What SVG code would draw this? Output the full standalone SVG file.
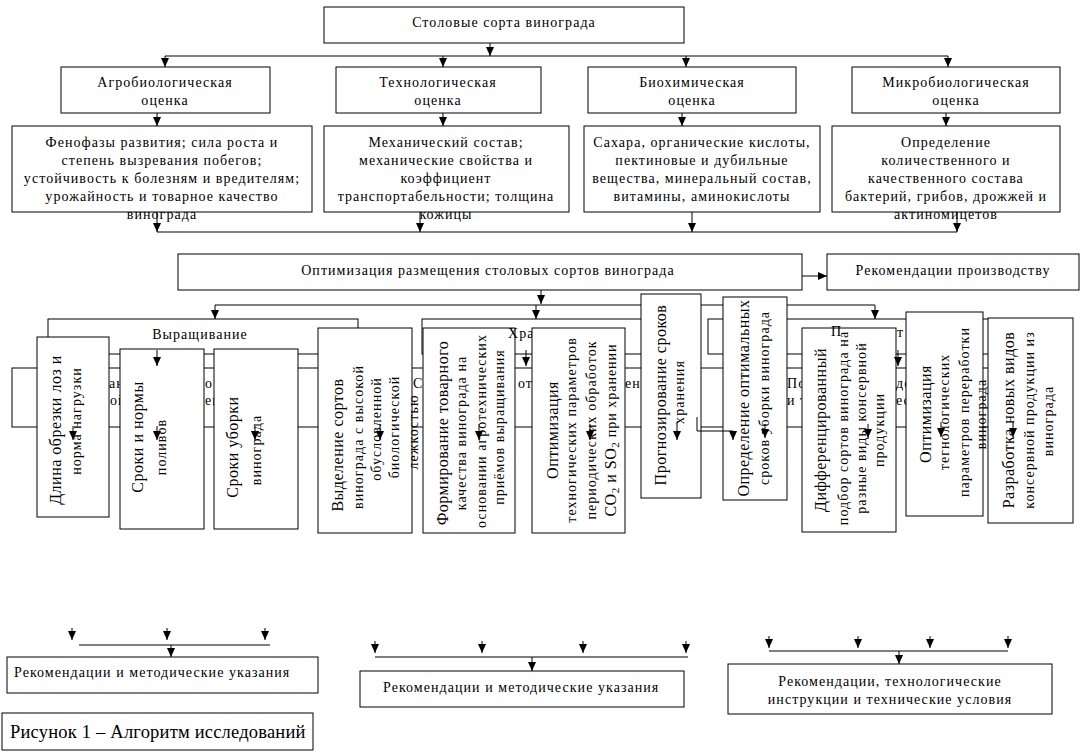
<svg xmlns="http://www.w3.org/2000/svg" width="1081" height="752" viewBox="0 0 1081 752">
<style>
.b{fill:#fff;stroke:#000;stroke-width:1}
text{font-family:"Liberation Serif","Times New Roman",serif;font-size:14px;letter-spacing:1.05px;fill:#000}
.m{text-anchor:middle}
.h{font-size:16px;letter-spacing:0.5px}
.cap{font-size:18.5px;letter-spacing:0.2px}
.c line,.c path{fill:none;stroke:#000;stroke-width:1}
.a{marker-end:url(#ah)}
</style>
<defs>
<marker id="ah" markerWidth="9" markerHeight="8" refX="9" refY="4" orient="auto" markerUnits="userSpaceOnUse"><path d="M0,0 L9,4 L0,8 z" fill="#000"/></marker>
</defs>
<rect width="1081" height="752" fill="#fff"/>

<g class="c" id="connectors-top">
<line class="a" x1="490" y1="43" x2="490" y2="56"/>
<line x1="165" y1="56" x2="948" y2="56"/>
<line class="a" x1="165" y1="56" x2="165" y2="67"/>
<line class="a" x1="443" y1="56" x2="443" y2="67"/>
<line class="a" x1="686" y1="56" x2="686" y2="67"/>
<line class="a" x1="948" y1="56" x2="948" y2="67"/>
<line class="a" x1="157" y1="113" x2="157" y2="126"/>
<line class="a" x1="443" y1="113" x2="443" y2="126"/>
<line class="a" x1="682" y1="113" x2="682" y2="126"/>
<line class="a" x1="946" y1="113" x2="946" y2="126"/>
<line class="a" x1="157" y1="212" x2="157" y2="232"/>
<line class="a" x1="420" y1="212" x2="420" y2="232"/>
<line class="a" x1="692" y1="212" x2="692" y2="232"/>
<line class="a" x1="957" y1="212" x2="957" y2="232"/>
<line x1="157" y1="232" x2="957" y2="232"/>
<line class="a" x1="802" y1="276" x2="827" y2="276"/>
<line class="a" x1="541" y1="290" x2="541" y2="304"/>
<line x1="215" y1="305" x2="875" y2="305"/>
<line class="a" x1="215" y1="305" x2="215" y2="319"/>
<line class="a" x1="536" y1="305" x2="536" y2="319"/>
<line class="a" x1="875" y1="305" x2="875" y2="319"/>
</g>

<g id="n-top"><rect class="b" x="324" y="7" width="360" height="36"/><text class="m" x="504" y="27">Столовые сорта винограда</text></g>

<g id="n-agro"><rect class="b" x="61" y="67" width="209" height="46"/><text class="m" x="165" y="87">Агробиологическая</text><text class="m" x="165" y="105">оценка</text></g>
<g id="n-tech"><rect class="b" x="336" y="67" width="205" height="46"/><text class="m" x="438" y="87">Технологическая</text><text class="m" x="438" y="105">оценка</text></g>
<g id="n-bio"><rect class="b" x="588" y="67" width="208" height="46"/><text class="m" x="692" y="87">Биохимическая</text><text class="m" x="692" y="105">оценка</text></g>
<g id="n-micro"><rect class="b" x="852" y="67" width="208" height="46"/><text class="m" x="956" y="87">Микробиологическая</text><text class="m" x="956" y="105">оценка</text></g>

<g id="n-agro-d"><rect class="b" x="12" y="126" width="300" height="86"/>
<text class="m" x="162" y="147">Фенофазы развития; сила роста и</text>
<text class="m" x="162" y="165">степень вызревания побегов;</text>
<text class="m" x="162" y="183">устойчивость к болезням и вредителям;</text>
<text class="m" x="162" y="201">урожайность и  товарное качество</text>
<text class="m" x="162" y="219">винограда</text></g>
<g id="n-tech-d"><rect class="b" x="324" y="126" width="245" height="86"/>
<text class="m" x="446" y="147">Механический состав;</text>
<text class="m" x="446" y="165">механические свойства и</text>
<text class="m" x="446" y="183">коэффициент</text>
<text class="m" x="446" y="201">транспортабельности; толщина</text>
<text class="m" x="446" y="219">кожицы</text></g>
<g id="n-bio-d"><rect class="b" x="584" y="126" width="236" height="86"/>
<text class="m" x="702" y="147">Сахара,  органические кислоты,</text>
<text class="m" x="702" y="165">пектиновые и дубильные</text>
<text class="m" x="702" y="183">вещества, минеральный состав,</text>
<text class="m" x="702" y="201">витамины, аминокислоты</text></g>
<g id="n-micro-d"><rect class="b" x="832" y="126" width="228" height="86"/>
<text class="m" x="946" y="147">Определение</text>
<text class="m" x="946" y="165">количественного и</text>
<text class="m" x="946" y="183">качественного состава</text>
<text class="m" x="946" y="201">бактерий, грибов, дрожжей и</text>
<text class="m" x="946" y="219">актиномицетов</text></g>

<g id="n-opt"><rect class="b" x="178" y="254" width="624" height="36"/><text class="m" x="488" y="275">Оптимизация размещения столовых сортов винограда</text></g>
<g id="n-rec-prod"><rect class="b" x="827" y="254" width="252" height="36"/><text class="m" x="953" y="275">Рекомендации производству</text></g>

<g id="n-grow"><rect class="b" x="48" y="319" width="310" height="35"/><text class="m" x="200" y="339">Выращивание</text></g>
<g id="n-store"><rect class="b" x="422" y="319" width="268" height="35"/></g>
<g id="n-proc"><rect class="b" x="708" y="319" width="292" height="35"/></g>
<g id="n-row"><rect class="b" x="12" y="368" width="988" height="59"/>
<text x="109" y="388">ан</text><text x="205" y="388">о</text>
<text x="110" y="405">ой</text><text x="205" y="405">ен</text>
<text x="413" y="388">С</text><text x="518" y="388">от</text><text x="625" y="388">ени</text>
<text x="787" y="388">По</text><text x="787" y="405">и т</text>
<text x="896" y="388">де</text><text x="896" y="405">ес</text></g>

<g id="v1"><rect class="b" x="37" y="337" width="72" height="180"/>
<text class="m h" transform="translate(61,430) rotate(-90)">Длина обрезки лоз и</text>
<text class="m" transform="translate(81,421) rotate(-90)">норма нагрузки</text></g>
<g id="v2"><rect class="b" x="120" y="349" width="84" height="180"/>
<text class="m h" transform="translate(143,437) rotate(-90)">Сроки и нормы</text>
<text class="m" transform="translate(166,447) rotate(-90)">поливов</text></g>
<g id="v3"><rect class="b" x="214" y="349" width="84" height="180"/>
<text class="m h" transform="translate(238,447) rotate(-90)">Сроки  уборки</text>
<text class="m" transform="translate(261,450) rotate(-90)">винограда</text></g>
<g id="v4"><rect class="b" x="318" y="328" width="94" height="205"/>
<text class="m h" transform="translate(343,445) rotate(-90)">Выделение сортов</text>
<text class="m" transform="translate(363,437) rotate(-90)">винограда с высокой</text>
<text class="m" transform="translate(381,429) rotate(-90)">обусловленной</text>
<text class="m" transform="translate(399,427) rotate(-90)">биологической</text>
<text class="m" transform="translate(418,432) rotate(-90)">лежкостью</text></g>
<g id="v5"><rect class="b" x="423" y="328" width="92" height="205"/>
<text class="m h" transform="translate(448,433) rotate(-90)">Формирование товарного</text>
<text class="m" transform="translate(466,433) rotate(-90)">качества винограда на</text>
<text class="m" transform="translate(486,431) rotate(-90)">основании агротехнических</text>
<text class="m" transform="translate(504,427) rotate(-90)">приёмов выращивания</text></g>
<g id="n-store-t"><text x="508" y="338">Хранение</text></g>
<g id="v6"><rect class="b" x="532" y="328" width="93" height="205"/>
<text class="m h" transform="translate(558,430) rotate(-90)">Оптимизация</text>
<text class="m" transform="translate(576,430) rotate(-90)">техногических параметров</text>
<text class="m" transform="translate(596,430) rotate(-90)">периодических обработок</text>
<text class="m h" transform="translate(616,430) rotate(-90)">CO<tspan font-size="11" dy="3">2</tspan><tspan dy="-3"> и SO</tspan><tspan font-size="11" dy="3">2</tspan><tspan dy="-3" font-size="14" letter-spacing="1"> при хранении</tspan></text></g>
<g id="v7"><rect class="b" x="641" y="294" width="60" height="204"/>
<text class="m h" transform="translate(666,395) rotate(-90)">Прогнозирование сроков</text>
<text class="m" transform="translate(684,392) rotate(-90)">хранения</text></g>
<g id="v8"><rect class="b" x="723" y="297" width="64" height="203"/>
<text class="m h" transform="translate(749,398) rotate(-90)">Определение оптимальных</text>
<text class="m" transform="translate(769,398) rotate(-90)">сроков уборки винограда</text></g>
<g id="v9"><rect class="b" x="802" y="328" width="94" height="204"/>
<text class="m h" transform="translate(826,430) rotate(-90)">Дифференцированный</text>
<text class="m" transform="translate(848,428) rotate(-90)">подбор сортов винограда на</text>
<text class="m" transform="translate(866,428) rotate(-90)">разные виды консервной</text>
<text class="m" transform="translate(884,430) rotate(-90)">продукции</text></g>
<g id="n-proc-t"><text x="831" y="336">П</text><text x="897" y="337">т</text></g>
<g id="v10"><rect class="b" x="906" y="312" width="77" height="204"/>
<text class="m h" transform="translate(931,414) rotate(-90)">Оптимизация</text>
<text class="m" transform="translate(949,412) rotate(-90)">тегнологических</text>
<text class="m" transform="translate(969,412) rotate(-90)">параметров переработки</text>
<text class="m" transform="translate(986,414) rotate(-90)">винограда</text></g>
<g id="v11"><rect class="b" x="988" y="318" width="85" height="205"/>
<text class="m h" transform="translate(1014,420) rotate(-90)">Разработка новых видов</text>
<text class="m" transform="translate(1034,420) rotate(-90)">консервной  продукции из</text>
<text class="m" transform="translate(1053,421) rotate(-90)">винограда</text></g>

<g class="c" id="connectors-mid">
<line class="a" x1="157" y1="350" x2="157" y2="366"/>
<line class="a" x1="526" y1="350" x2="526" y2="366"/>
<line class="a" x1="898" y1="350" x2="898" y2="366"/>
<line class="a" x1="73" y1="426" x2="73" y2="440"/>
<line class="a" x1="157" y1="426" x2="157" y2="440"/>
<line class="a" x1="255" y1="426" x2="255" y2="440"/>
<line class="a" x1="380" y1="424" x2="380" y2="440"/>
<line class="a" x1="479" y1="424" x2="479" y2="440"/>
<line class="a" x1="590" y1="424" x2="590" y2="440"/>
<line class="a" x1="677" y1="422" x2="677" y2="440"/>
<path class="a" d="M697,417 V431 H733 V440"/>
<line class="a" x1="765" y1="424" x2="765" y2="438"/>
<line class="a" x1="868" y1="424" x2="868" y2="438"/>
<line class="a" x1="941" y1="422" x2="941" y2="437"/>
<line class="a" x1="1013" y1="422" x2="1013" y2="437"/>
</g>

<g class="c" id="connectors-bottom">
<line class="a" x1="72" y1="628" x2="72" y2="640"/>
<line class="a" x1="167" y1="628" x2="167" y2="640"/>
<line class="a" x1="265" y1="628" x2="265" y2="640"/>
<line x1="79" y1="645" x2="270" y2="645"/>
<line class="a" x1="171" y1="645" x2="171" y2="657"/>
<line class="a" x1="375" y1="641" x2="375" y2="653"/>
<line class="a" x1="482" y1="641" x2="482" y2="653"/>
<line class="a" x1="583" y1="641" x2="583" y2="653"/>
<line class="a" x1="686" y1="641" x2="686" y2="653"/>
<line x1="375" y1="657" x2="688" y2="657"/>
<line class="a" x1="532" y1="657" x2="532" y2="671"/>
<line class="a" x1="769" y1="636" x2="769" y2="648"/>
<line class="a" x1="858" y1="636" x2="858" y2="648"/>
<line class="a" x1="930" y1="636" x2="930" y2="648"/>
<line class="a" x1="1008" y1="636" x2="1008" y2="648"/>
<line x1="769" y1="651" x2="1008" y2="651"/>
<line class="a" x1="899" y1="651" x2="899" y2="664"/>
</g>

<g id="n-rec1"><rect class="b" x="7" y="657" width="311" height="36"/><text x="14" y="677">Рекомендации и методические указания</text></g>
<g id="n-rec2"><rect class="b" x="360" y="671" width="324" height="36"/><text x="383" y="692">Рекомендации и методические указания</text></g>
<g id="n-rec3"><rect class="b" x="728" y="664" width="324" height="50"/><text class="m" x="890" y="686">Рекомендации, технологические</text><text class="m" x="890" y="704">инструкции и технические условия</text></g>
<g id="caption"><rect class="b" x="2" y="713" width="311" height="37"/><text class="cap" x="10" y="738">Рисунок 1 – Алгоритм исследований</text></g>
</svg>
